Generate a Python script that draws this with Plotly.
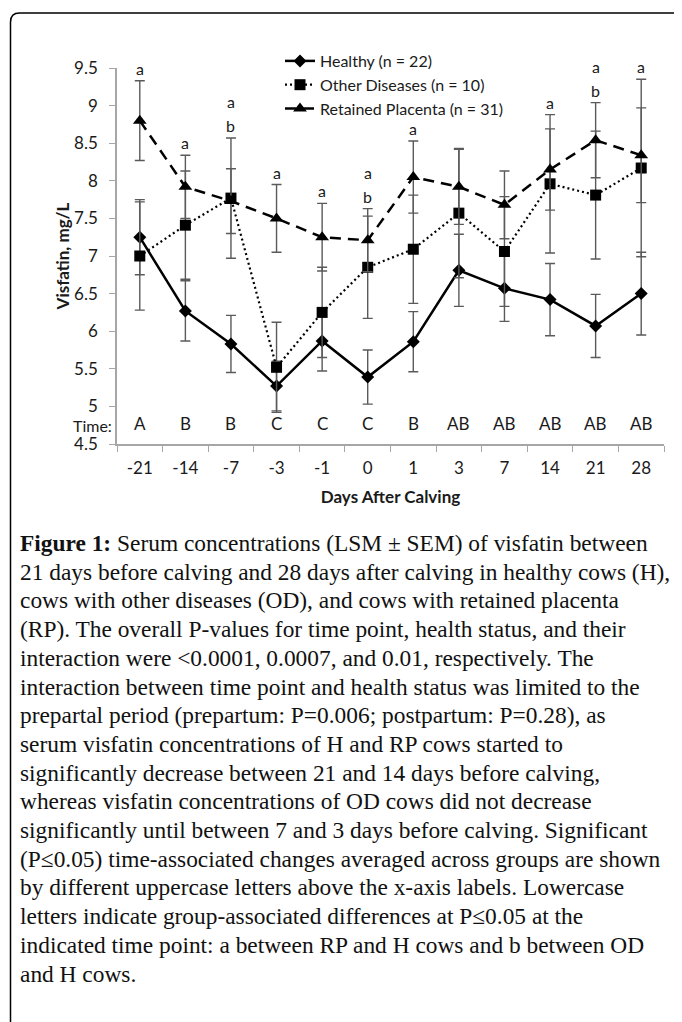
import plotly.graph_objects as go

days = ["-21", "-14", "-7", "-3", "-1", "0", "1", "3", "7", "14", "21", "28"]

healthy = [7.25, 6.27, 5.83, 5.27, 5.87, 5.39, 5.86, 6.81, 6.57, 6.42, 6.07, 6.50]
healthy_sem = [0.50, 0.40, 0.38, 0.33, 0.40, 0.36, 0.40, 0.48, 0.44, 0.48, 0.42, 0.55]

other = [7.00, 7.41, 7.77, 5.52, 6.25, 6.85, 7.09, 7.57, 7.06, 7.96, 7.81, 8.17]
other_sem = [0.72, 0.72, 0.80, 0.60, 0.60, 0.68, 0.72, 0.86, 0.73, 0.92, 0.85, 1.18]

retained = [8.80, 7.92, 7.73, 7.50, 7.25, 7.21, 8.05, 7.92, 7.68, 8.15, 8.54, 8.34]
retained_sem = [0.53, 0.42, 0.43, 0.45, 0.45, 0.42, 0.48, 0.50, 0.45, 0.54, 0.50, 0.63]

time_letters = ["A", "B", "B", "C", "C", "C", "B", "AB", "AB", "AB", "AB", "AB"]
sig_a = [True, True, True, True, True, True, True, False, False, True, True, True]
sig_b = [False, False, True, False, False, True, False, False, False, False, True, False]

caption_lines = [
    "<b>Figure 1:</b> Serum concentrations (LSM ± SEM) of visfatin between",
    "21 days before calving and 28 days after calving in healthy cows (H),",
    "cows with other diseases (OD), and cows with retained placenta",
    "(RP). The overall P-values for time point, health status, and their",
    "interaction were &lt;0.0001, 0.0007, and 0.01, respectively. The",
    "interaction between time point and health status was limited to the",
    "prepartal period (prepartum: P=0.006; postpartum: P=0.28), as",
    "serum visfatin concentrations of H and RP cows started to",
    "significantly decrease between 21 and 14 days before calving,",
    "whereas visfatin concentrations of OD cows did not decrease",
    "significantly until between 7 and 3 days before calving. Significant",
    "(P≤0.05) time-associated changes averaged across groups are shown",
    "by different uppercase letters above the x-axis labels. Lowercase",
    "letters indicate group-associated differences at P≤0.05 at the",
    "indicated time point: a between RP and H cows and b between OD",
    "and H cows.",
]

# the page body has an 8px margin; figure sized so that it fills the window
OFF = 8
W, H = 682 - OFF, 1022 - OFF
PL, PR, PT, PB = 117 - OFF, 664 - OFF, 68 - OFF, 444 - OFF  # plot area (figure px)


def px(xp):  # page pixel -> paper x
    return (xp - OFF - PL) / (PR - PL)


def py(yp):  # page pixel -> paper y
    return (PB - (yp - OFF)) / (PB - PT)


SANS = "Lato, 'Open Sans', sans-serif"
ERR = "#5a5a5a"
TXT = "#1a1a1a"
FS = 17
FL = 16  # letters

fig = go.Figure()

fig.add_trace(go.Scatter(
    x=days, y=healthy, name="Healthy (n = 22)", mode="lines+markers",
    line=dict(color="black", width=2.5),
    marker=dict(symbol="diamond", size=10, color="black"),
    error_y=dict(type="data", array=healthy_sem, color=ERR, thickness=1.4, width=5),
))
fig.add_trace(go.Scatter(
    x=days, y=other, name="Other Diseases (n = 10)", mode="lines+markers",
    line=dict(color="black", width=2.2, dash="2px,3px"),
    marker=dict(symbol="square", size=11, color="black"),
    error_y=dict(type="data", array=other_sem, color=ERR, thickness=1.4, width=5),
))
fig.add_trace(go.Scatter(
    x=days, y=retained, name="Retained Placenta (n = 31)", mode="lines+markers",
    line=dict(color="black", width=2.5, dash="11px,7px"),
    marker=dict(symbol="triangle-up", size=12, color="black"),
    error_y=dict(type="data", array=retained_sem, color=ERR, thickness=1.4, width=5),
))

annotations = []
for i, d in enumerate(days):
    top = max(healthy[i] + healthy_sem[i], other[i] + other_sem[i], retained[i] + retained_sem[i])
    shift = 1
    if sig_b[i]:
        annotations.append(dict(x=i, y=top, xref="x", yref="y", text="b", showarrow=False,
                                yanchor="bottom", yshift=shift, font=dict(family=SANS, size=FL, color=TXT)))
        shift += 24
    if sig_a[i]:
        annotations.append(dict(x=i, y=top, xref="x", yref="y", text="a", showarrow=False,
                                yanchor="bottom", yshift=shift, font=dict(family=SANS, size=FL, color=TXT)))
    annotations.append(dict(x=i, y=4.5, xref="x", yref="y", text=time_letters[i], showarrow=False,
                            yanchor="bottom", yshift=8, font=dict(family=SANS, size=FS, color=TXT)))

annotations.append(dict(x=0, y=4.5, xref="paper", yref="y", text="Time:", showarrow=False,
                        xanchor="right", yanchor="bottom", yshift=7, xshift=-3,
                        font=dict(family=SANS, size=FS - 1, color=TXT)))

for k, line in enumerate(caption_lines):
    annotations.append(dict(x=px(21), y=py(543 + k * 28.7), xref="paper", yref="paper",
                            text=line, showarrow=False, xanchor="left", yanchor="middle", xshift=-3,
                            font=dict(family="'Liberation Serif', serif", size=23.4, color="#111")))

x0, y0 = px(10.5), py(1030)
x1, y1 = px(10.5), py(22)
x2, y2 = px(19.5), py(13)
x3 = px(690)
frame_path = f"M {x0},{y0} L {x1},{y1} Q {x1},{y2} {x2},{y2} L {x3},{y2}"

fig.update_layout(
    width=W, height=H,
    margin=dict(l=PL, r=W - PR, t=PT, b=H - PB),
    paper_bgcolor="white", plot_bgcolor="white",
    font=dict(family=SANS, size=FS, color=TXT),
    showlegend=True,
    legend=dict(x=px(280), y=py(44), xanchor="left", yanchor="top",
                bgcolor="rgba(0,0,0,0)", font=dict(family=SANS, size=FS - 1, color=TXT),
                tracegroupgap=0),
    xaxis=dict(type="category", range=[-0.5, 11.5], showline=True, linecolor="#a6a6a6", linewidth=1.5,
               ticks="outside", tickson="boundaries", ticklen=6, tickcolor="#a6a6a6",
               showgrid=False, zeroline=False, tickfont=dict(family=SANS, size=FS, color=TXT),
               ticklabelstandoff=8,
               title=dict(text="<b>Days After Calving</b>", font=dict(family=SANS, size=FS, color=TXT),
                          standoff=14)),
    yaxis=dict(range=[4.5, 9.5], tickvals=[4.5, 5, 5.5, 6, 6.5, 7, 7.5, 8, 8.5, 9, 9.5],
               ticktext=["4.5", "5", "5.5", "6", "6.5", "7", "7.5", "8", "8.5", "9", "9.5"],
               showline=True, linecolor="#a6a6a6", linewidth=1.5, ticks="outside", ticklen=6,
               tickcolor="#a6a6a6", showgrid=False, zeroline=False,
               tickfont=dict(family=SANS, size=FS, color=TXT), ticklabelstandoff=8,
               title=dict(text="<b>Visfatin, mg/L</b>", font=dict(family=SANS, size=FS, color=TXT),
                          standoff=0)),
    annotations=annotations,
    shapes=[dict(type="path", path=frame_path, xref="paper", yref="paper",
                 line=dict(color="black", width=1.5))],
)

fig.write_html("out.html")
